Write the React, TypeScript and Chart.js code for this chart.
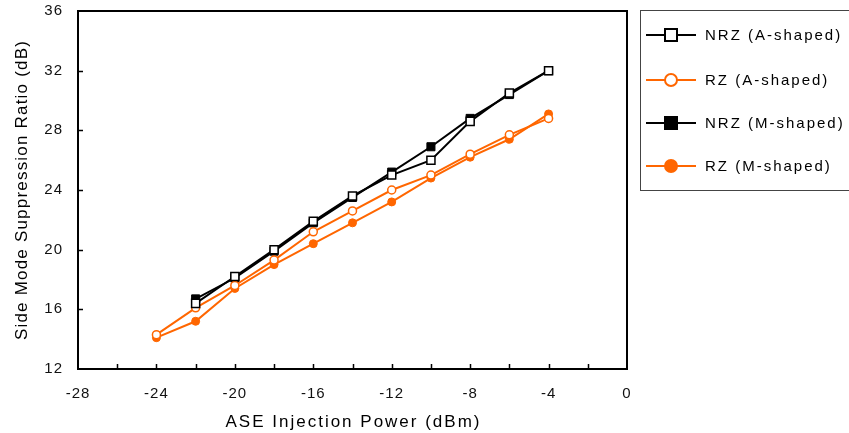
import React, { useEffect, useRef } from "react";
import { Chart, registerables } from "chart.js";

Chart.register(...registerables);

const nrzX = [-22, -20, -18, -16, -14, -12, -10, -8, -6, -4];
const rzX = [-24, -22, -20, -18, -16, -14, -12, -10, -8, -6, -4];

const nrzA = [16.4, 18.2, 20.0, 21.9, 23.6, 25.0, 26.0, 28.6, 30.5, 32.0];
const nrzM = [16.7, 18.1, 19.9, 21.8, 23.5, 25.2, 26.9, 28.8, 30.4, 32.0];
const rzA = [14.3, 16.1, 17.6, 19.3, 21.2, 22.6, 24.0, 25.0, 26.4, 27.7, 28.8];
const rzM = [14.1, 15.2, 17.4, 19.0, 20.4, 21.8, 23.2, 24.8, 26.2, 27.4, 29.1];

const seriesNames = ["NRZ (A-shaped)", "RZ (A-shaped)", "NRZ (M-shaped)", "RZ (M-shaped)"];

const xTicksMinor = [-26, -24, -22, -20, -18, -16, -14, -12, -10, -8, -6, -4, -2];
const yTicksMinor = [16, 20, 24, 28, 32];

const X_TITLE = "ASE Injection Power (dBm)";
const Y_TITLE = "Side Mode Suppression Ratio (dB)";

const BLACK = "#000000";
const ORANGE = "#FF6600";
const FONT = "'Liberation Sans', Arial, sans-serif";

const toPts = (xs: number[], ys: number[]) => ys.map((y, i) => ({ x: xs[i], y }));

const legendItems = [
  { label: seriesNames[0], color: BLACK, style: "rect", filled: false },
  { label: seriesNames[1], color: ORANGE, style: "circle", filled: false },
  { label: seriesNames[2], color: BLACK, style: "rect", filled: true },
  { label: seriesNames[3], color: ORANGE, style: "circle", filled: true },
];

const decorPlugin = {
  id: "decor",
  beforeDraw(chart: any) {
    const ctx = chart.ctx;
    ctx.save();
    ctx.fillStyle = "#ffffff";
    ctx.fillRect(0, 0, chart.width, chart.height);
    ctx.restore();
    (ctx as any).letterSpacing = "1px";
  },
  afterDraw(chart: any) {
    const ctx = chart.ctx;
    const ca = chart.chartArea;
    const xs = chart.scales.x;
    const ys = chart.scales.y;
    ctx.save();
    // inward tick marks
    ctx.strokeStyle = "#000";
    ctx.lineWidth = 1.5;
    ctx.beginPath();
    xTicksMinor.forEach((v) => {
      const px = Math.round(xs.getPixelForValue(v)) + 0.5;
      ctx.moveTo(px, ca.bottom);
      ctx.lineTo(px, ca.bottom - 5);
    });
    yTicksMinor.forEach((v) => {
      const py = Math.round(ys.getPixelForValue(v)) + 0.5;
      ctx.moveTo(ca.left, py);
      ctx.lineTo(ca.left + 5, py);
    });
    ctx.stroke();
    // plot frame
    ctx.lineWidth = 2;
    ctx.strokeRect(ca.left, ca.top, ca.right - ca.left, ca.bottom - ca.top);

    // axis titles
    ctx.fillStyle = "#000";
    ctx.font = `17px ${FONT}`;
    (ctx as any).letterSpacing = "2px";
    ctx.textAlign = "center";
    ctx.textBaseline = "middle";
    ctx.fillText(X_TITLE, (ca.left + ca.right) / 2 + 1, 422);
    (ctx as any).letterSpacing = "1.2px";
    ctx.save();
    ctx.translate(22, (ca.top + ca.bottom) / 2);
    ctx.rotate(-Math.PI / 2);
    ctx.fillText(Y_TITLE, 0, 0);
    ctx.restore();

    // legend
    ctx.lineWidth = 1;
    ctx.strokeStyle = "#444";
    ctx.strokeRect(640.5, 10.5, 240, 180);
    const rows = [35, 80, 123, 166];
    ctx.font = `15px ${FONT}`;
    (ctx as any).letterSpacing = "2px";
    ctx.textAlign = "left";
    legendItems.forEach((it, i) => {
      const y = rows[i];
      ctx.strokeStyle = it.color;
      ctx.lineWidth = 2;
      ctx.beginPath();
      ctx.moveTo(646, y);
      ctx.lineTo(696, y);
      ctx.stroke();
      ctx.lineWidth = 2;
      if (it.style === "rect") {
        ctx.fillStyle = it.filled ? it.color : "#fff";
        ctx.fillRect(665, y - 6, 12, 12);
        ctx.strokeRect(665, y - 6, 12, 12);
      } else {
        ctx.beginPath();
        ctx.arc(671, y, 6, 0, Math.PI * 2);
        ctx.fillStyle = it.filled ? it.color : "#fff";
        ctx.fill();
        ctx.stroke();
      }
      ctx.fillStyle = "#000";
      ctx.fillText(it.label, 705, y + 1);
    });
    ctx.restore();
  },
};

export default function App() {
  const ref = useRef<HTMLCanvasElement | null>(null);
  useEffect(() => {
    document.body.style.margin = "0";
    const canvas = ref.current;
    if (!canvas) return;
    const chart = new Chart(canvas, {
      type: "scatter",
      data: {
        datasets: [
          {
            label: seriesNames[0],
            data: toPts(nrzX, nrzA),
            showLine: true,
            borderColor: BLACK,
            backgroundColor: "#ffffff",
            borderWidth: 2,
            pointStyle: "rect",
            pointRadius: 5.7,
            pointBorderWidth: 1.5,
            pointBorderColor: BLACK,
            pointBackgroundColor: "#ffffff",
            order: 1,
          },
          {
            label: seriesNames[1],
            data: toPts(rzX, rzA),
            showLine: true,
            borderColor: ORANGE,
            backgroundColor: "#ffffff",
            borderWidth: 2,
            pointStyle: "circle",
            pointRadius: 4,
            pointBorderWidth: 1.5,
            pointBorderColor: ORANGE,
            pointBackgroundColor: "#ffffff",
            order: 1,
          },
          {
            label: seriesNames[2],
            data: toPts(nrzX, nrzM),
            showLine: true,
            borderColor: BLACK,
            backgroundColor: BLACK,
            borderWidth: 2,
            pointStyle: "rect",
            pointRadius: 5.7,
            pointBorderWidth: 1,
            pointBorderColor: BLACK,
            pointBackgroundColor: BLACK,
            order: 2,
          },
          {
            label: seriesNames[3],
            data: toPts(rzX, rzM),
            showLine: true,
            borderColor: ORANGE,
            backgroundColor: ORANGE,
            borderWidth: 2,
            pointStyle: "circle",
            pointRadius: 4,
            pointBorderWidth: 1,
            pointBorderColor: ORANGE,
            pointBackgroundColor: ORANGE,
            order: 2,
          },
        ],
      },
      options: {
        responsive: false,
        animation: false,
        layout: { padding: { top: 11, right: 222, left: 0, bottom: 0 } },
        plugins: {
          legend: { display: false },
          tooltip: { enabled: false },
        },
        scales: {
          x: {
            type: "linear",
            min: -28,
            max: 0,
            grid: { display: false },
            border: { display: false },
            ticks: {
              stepSize: 4,
              color: "#111",
              padding: 8,
              font: { family: FONT, size: 15 },
            },
            afterFit: (s: any) => {
              s.height = 64;
              s.paddingLeft = 0;
              s.paddingRight = 0;
            },
          },
          y: {
            type: "linear",
            min: 12,
            max: 36,
            grid: { display: false },
            border: { display: false },
            ticks: {
              stepSize: 4,
              color: "#111",
              padding: 7,
              font: { family: FONT, size: 15 },
            },
            afterFit: (s: any) => {
              s.width = 78;
              s.paddingTop = 0;
              s.paddingBottom = 0;
            },
          },
        },
      },
      plugins: [decorPlugin],
    } as any);
    return () => chart.destroy();
  }, []);
  return (
    <div style={{ width: 849, height: 433 }}>
      <canvas ref={ref} width={849} height={433} style={{ display: "block" }} />
    </div>
  );
}
